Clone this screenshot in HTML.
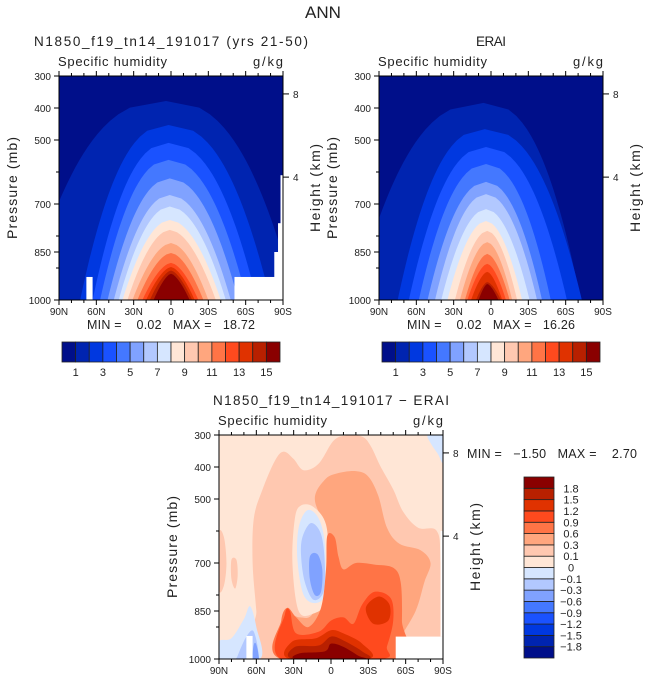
<!DOCTYPE html>
<html><head><meta charset="utf-8">
<style>
html,body{margin:0;padding:0;background:#fff;}
svg{display:block;font-family:"Liberation Sans",sans-serif;}
</style></head>
<body>
<svg id="fig" width="647" height="684" viewBox="0 0 647 684" xmlns="http://www.w3.org/2000/svg">
<text x="323" y="18" font-size="17" text-anchor="middle" fill="#222">ANN</text>
</svg>
<script>
// ---------- data ----------
const humLevels = [1,2,3,4,5,6,7,8,9,10,11,12,13,14,15];
const humColors = ["#000f8a","#0024b0","#0038e0","#1a52ff","#4478ff","#80a2ff","#b2c8ff","#d6e6ff","#ffe6d6","#ffc8b0","#ffa67e","#ff7446","#ff4a1e","#e03200","#b82000","#8a0000"];
const humTickLabels = ["1","3","5","7","9","11","13","15"];
// model: per level peak pressure, peak latitude, left/right latitude at 1000 mb (negative = north)
const modelPeakP  = [378,453,509,562,620,672,708,750,781,822,853,884,897,908,918];
const modelPeakLat= [-4,-2,-2,-2,-1,-1,-1,-1,-1,0,0,0,0,0,0];
const modelLeft   = [-117,-73,-63,-57,-51,-46,-42,-39,-35,-31,-27,-23,-20,-17,-14];
const modelRight  = [100,80,69,61,54,48,44,40,36,30,26,22,19,17,15];
const eraiPeakP   = [384,466,522,575,631,669,716,753,784,819,856,887,912,944,950];
const eraiPeakLat = [-6,-5,-4,-4,-4,-4,-4,-4,-3,-3,-3,-3,-3,-3,-3];
const eraiLeft    = [-110,-75,-66,-58,-51,-45,-40,-35,-29,-25,-21,-19,-16,-12,-10];
const eraiRight   = [72,73,61,48,41,37,31,25,21,17,15,12,9,8,6];
// missing data regions [lat0, lat1, p0, p1]
const modelMissing = [[-68,-63,928,1000],[51,90,928,1000],[83,90,850,1000],[86,90,760,1000],[88,90,610,1000]];
const eraiMissing = [];
// difference field
const diffBounds = [-1.8,-1.5,-1.2,-0.9,-0.6,-0.3,-0.1,0,0.1,0.3,0.6,0.9,1.2,1.5,1.8];
const diffColors = ["#000f8a","#0024b0","#0038e0","#1a52ff","#4478ff","#80a2ff","#b2c8ff","#d6e6ff","#ffe6d6","#ffc8b0","#ffa67e","#ff7446","#ff4a1e","#e03200","#b82000","#8a0000"];
const diffBoundLabels = ["−1.8","−1.5","−1.2","−0.9","−0.6","−0.3","−0.1","0","0.1","0.3","0.6","0.9","1.2","1.5","1.8"];
const diffBackground = 0.05;
const diffBlobValues = [0.2,0.2,0.2,0.45,0.05,-0.05,-0.2,-0.45,0.75,1.05,1.35,1.35,1.65,2.0,-0.05,-0.2,-0.45,-0.05];
const diffBlobShapes = [
 [[-57,1000],[-60,850],[-63,700],[-62,560],[-55,470],[-45,380],[-38,352],[-30,375],[-22,410],[-10,390],[2,318],[12,302],[25,305],[32,335],[40,400],[50,470],[58,540],[70,590],[85,600],[88,700],[88,1000]],
 [[-90,610],[-86,620],[-84,700],[-86,770],[-90,780]],
 [[-80,690],[-76,690],[-75,740],[-77,780],[-80,750]],
 [[-13,500],[-5,440],[5,420],[20,413],[30,430],[38,490],[45,590],[55,640],[72,660],[80,700],[75,760],[68,850],[55,940],[50,1000],[-40,1000],[-40,900],[-35,860],[-25,870],[-15,860],[-5,760],[-5,600]],
 [[-29,560],[-24,520],[-14,525],[-4,580],[-2,700],[-4,820],[-14,858],[-26,850],[-31,700]],
 [[-26,590],[-19,535],[-10,560],[-5,640],[-5,790],[-12,825],[-22,800],[-27,690]],
 [[-23,620],[-16,575],[-8,610],[-5,700],[-6,790],[-14,815],[-21,760],[-24,680]],
 [[-17,680],[-11,672],[-7,720],[-8,790],[-13,800],[-17,750]],
 [[-3,615],[3,620],[6,680],[10,720],[20,700],[35,705],[50,715],[56,760],[57,880],[55,1000],[-40,1000],[-40,880],[-35,840],[-28,870],[-18,900],[-8,840],[-4,720]],
 [[-37,860],[-33,850],[-28,920],[-10,915],[0,880],[10,870],[18,890],[25,830],[35,790],[48,810],[50,880],[45,960],[40,1000],[-40,1000]],
 [[-31,945],[-12,935],[0,910],[10,920],[25,952],[30,1000],[-33,1000]],
 [[28,840],[38,805],[47,830],[46,880],[34,890]],
 [[-29,962],[-10,958],[0,930],[10,942],[25,976],[28,1000],[-30,1000]],
 [[-25,982],[-5,976],[0,952],[10,962],[22,990],[25,1000],[-27,1000]],
 [[-90,945],[-80,935],[-70,875],[-65,835],[-60,900],[-57,1000],[-90,1000]],
 [[-75,990],[-68,930],[-62,915],[-59,1000],[-75,1000]],
 [[-62,955],[-60,955],[-58,1000],[-63,1000]],
 [[78,300],[90,300],[90,385],[86,360],[80,325]]
];
const diffMissing = [[-68,-63,928,1000],[52,90,930,1000],[88,90,600,930]];
const latTicks=[-90,-60,-30,0,30,60,90];
const latTickLabels=["90N","60N","30N","0","30S","60S","90S"];
const presTicks=[300,400,500,700,850,1000];
const heightTicks=[8,4];
const heightTickP=[356,616];

// ---------- drawing ----------
const NS="http://www.w3.org/2000/svg";
const fig=document.getElementById('fig');
function mk(tag,attrs,parent){const e=document.createElementNS(NS,tag);for(const k in attrs)e.setAttribute(k,attrs[k]);(parent||fig).appendChild(e);return e;}
function txt(x,y,s,size,anchor,parent,len){const a={x:x,y:y,'font-size':size,'text-anchor':anchor||'start',fill:'#222'};if(len){a.textLength=len;a.lengthAdjust='spacing';}const t=mk('text',a,parent);t.textContent=s;return t;}

function axes(X,Y,x0,y0,w,h,g,title,titleLen){
  const t1=txt(x0+w/2,y0-30,title,13.5,'middle',g,titleLen);
  
  
  const t2=txt(x0-1,y0-10,'Specific humidity',13,'start',g,109);
  
  
  const t3=txt(x0+w,y0-10,'g/kg',13,'end',g,30);
  
  
  const fr=mk('rect',{x:x0,y:y0,width:w,height:h,fill:'none',stroke:'#000','stroke-width':1},g);
  
  
  for(let lat=-90;lat<=90;lat+=10){
    const major=lat%30===0, L=major?5:3;
    mk('line',{x1:X(lat),x2:X(lat),y1:y0+h,y2:y0+h+L,stroke:'#000'},g);
    mk('line',{x1:X(lat),x2:X(lat),y1:y0,y2:y0-L,stroke:'#000'},g);
  }
  latTicks.forEach((lat,i)=>{const t=txt(X(lat),y0+h+15,latTickLabels[i],10,'middle',g);
    
    });
  for(let p=300;p<=1000;p+=100){mk('line',{x1:x0,x2:x0-3,y1:Y(p),y2:Y(p),stroke:'#000'},g);}
  presTicks.forEach(p=>{mk('line',{x1:x0,x2:x0-5,y1:Y(p),y2:Y(p),stroke:'#000'},g);
    const t=txt(x0-8,Y(p)+4,String(p),10,'end',g);
    
    });
  heightTicks.forEach((hk,i)=>{const yy=Y(heightTickP[i]);mk('line',{x1:x0+w,x2:x0+w+6,y1:yy,y2:yy,stroke:'#000'},g);
    const t=txt(x0+w+10,yy+4,String(hk),10,'start',g);
    
    });
  const yl=txt(0,0,'Pressure (mb)',14,'middle',g,102);
  yl.setAttribute('transform',`translate(${x0-42},${y0+h/2}) rotate(-90)`);
  
  
  const yr=txt(0,0,'Height (km)',14,'middle',g,88);
  yr.setAttribute('transform',`translate(${x0+w+37},${y0+h/2}) rotate(-90)`);
  
  
}

let clipId=0;
function humPanel(x0,y0,w,h,title,titleLen,peakP,peakLat,left,right,missing,minmax,name){
  const g=mk('g',{});
  
  
  const X=lat=>x0+(lat+90)/180*w, Y=p=>y0+(p-300)/700*h;
  const cid='c'+(clipId++);
  const cp=mk('clipPath',{id:cid},g);mk('rect',{x:x0,y:y0,width:w,height:h},cp);
  const cg=mk('g',{'clip-path':`url(#${cid})`},g);
  mk('rect',{x:x0,y:y0,width:w,height:h,fill:humColors[0]},cg);
  humLevels.forEach((lv,i)=>{
    const e=0.4+0.018*i;
    const pts=[];const N=30;
    for(let k=N;k>=0;k--){const f=k/N;const p=peakP[i]+(1000-peakP[i])*f;const lat=peakLat[i]+(left[i]-peakLat[i])*Math.pow(f,e);pts.push(X(lat)+','+Y(p));}
    for(let k=1;k<=N;k++){const f=k/N;const p=peakP[i]+(1000-peakP[i])*f;const lat=peakLat[i]+(right[i]-peakLat[i])*Math.pow(f,e);pts.push(X(lat)+','+Y(p));}
    pts.push(X(right[i])+','+(Y(1000)+5));pts.push(X(left[i])+','+(Y(1000)+5));
    const pg=mk('polygon',{points:pts.join(' '),fill:humColors[i+1]},cg);
    
    
  });
  missing.forEach(m=>{const r=mk('rect',{x:X(m[0]),y:Y(m[2]),width:X(m[1])-X(m[0]),height:Y(m[3])-Y(m[2]),fill:'#fff'},cg);
    
    });
  axes(X,Y,x0,y0,w,h,g,title,titleLen);
  const mm=txt(x0+w/2,y0+h+29,minmax,12.5,'middle',g,168);
  
  
  mm.style.whiteSpace='pre';
  const cb=mk('g',{},g);
  
  
  const cx0=x0+3,cw=w-6,cy0=342,ch=20,bw=cw/humColors.length;
  humColors.forEach((c,i)=>{const r=mk('rect',{x:cx0+i*bw,y:cy0,width:bw,height:ch,fill:c,stroke:'#222','stroke-width':0.8},cb);
    
    });
  humTickLabels.forEach((s,i)=>{const t=txt(cx0+(2*i+1)*bw,376,s,11,'middle',cb);
    
    });
}

function smoothPath(pts){
  const n=pts.length;let d=`M${pts[0][0]},${pts[0][1]}`;
  for(let i=0;i<n;i++){const p0=pts[(i-1+n)%n],p1=pts[i],p2=pts[(i+1)%n],p3=pts[(i+2)%n];
    const c1=[p1[0]+(p2[0]-p0[0])/6,p1[1]+(p2[1]-p0[1])/6],c2=[p2[0]-(p3[0]-p1[0])/6,p2[1]-(p3[1]-p1[1])/6];
    d+=` C${c1[0]},${c1[1]} ${c2[0]},${c2[1]} ${p2[0]},${p2[1]}`;}
  return d+'Z';
}
function colorFor(v){let i=0;while(i<diffBounds.length&&v>diffBounds[i])i++;return diffColors[i];}

humPanel(59,76,224,224,'N1850_f19_tn14_191017 (yrs 21-50)',274,modelPeakP,modelPeakLat,modelLeft,modelRight,modelMissing,'MIN =    0.02   MAX =   18.72','model-panel');
humPanel(379,76,224,224,'ERAI',30,eraiPeakP,eraiPeakLat,eraiLeft,eraiRight,eraiMissing,'MIN =    0.02   MAX =   16.26','erai-panel');

(function(){
  const x0=219,y0=435,w=224,h=224;
  const g=mk('g',{});
  
  
  const X=lat=>x0+(lat+90)/180*w, Y=p=>y0+(p-300)/700*h;
  const cp=mk('clipPath',{id:'cd'},g);mk('rect',{x:x0,y:y0,width:w,height:h},cp);
  const cg=mk('g',{'clip-path':'url(#cd)'},g);
  mk('rect',{x:x0,y:y0,width:w,height:h,fill:colorFor(diffBackground)},cg);
  diffBlobShapes.forEach((s,i)=>{
    const pts=s.map(q=>[X(q[0]),Y(q[1])]);
    const pa=mk('path',{d:smoothPath(pts),fill:colorFor(diffBlobValues[i])},cg);
    
    
  });
  diffMissing.forEach(m=>{const r=mk('rect',{x:X(m[0]),y:Y(m[2]),width:X(m[1])-X(m[0]),height:Y(m[3])-Y(m[2]),fill:'#fff'},cg);
    
    });
  axes(X,Y,x0,y0,w,h,g,'N1850_f19_tn14_191017 − ERAI',236);
  const mm=txt(467,458,'MIN =   −1.50   MAX =    2.70',12.5,'start',g,170);
  mm.style.whiteSpace='pre';
  
  
  const cb=mk('g',{},g);
  
  
  const cx0=524,cw=30,cy0=477,ch=181,bh=ch/diffColors.length;
  diffColors.forEach((c,i)=>{const r=mk('rect',{x:cx0,y:cy0+ch-(i+1)*bh,width:cw,height:bh,fill:c,stroke:'#222','stroke-width':0.8},cb);
    
    });
  diffBoundLabels.forEach((s,i)=>{const t=txt(571,cy0+ch-(i+1)*bh+4,s,11,'middle',cb);
    
    });
})();
</script>
</body></html>
